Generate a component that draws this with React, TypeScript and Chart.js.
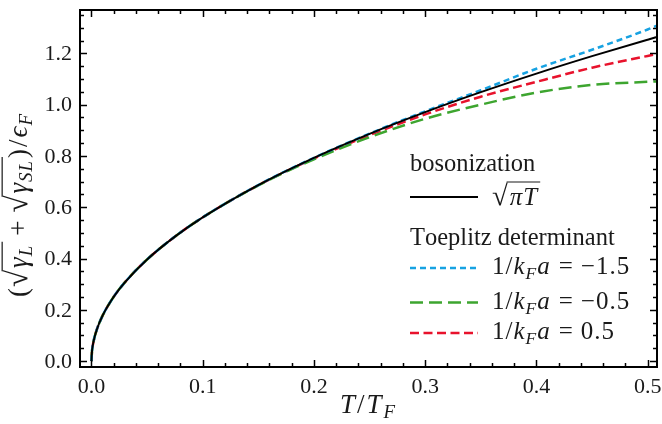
import React, { useEffect, useRef } from "react";
import { Chart, registerables } from "chart.js";

Chart.register(...registerables);

// ---- data ----
const T = [0, 0.0005, 0.001, 0.0025, 0.005, 0.01, 0.02, 0.03, 0.05, 0.075, 0.1, 0.15, 0.2, 0.25, 0.3, 0.35, 0.4, 0.45, 0.5, 0.51];
const bosonization = [0, 0.0396, 0.056, 0.0886, 0.1253, 0.1772, 0.2507, 0.307, 0.3963, 0.4854, 0.5605, 0.6865, 0.7927, 0.8862, 0.9708, 1.0486, 1.121, 1.189, 1.2533, 1.2658];
const toeplitzM15 = [0, 0.0396, 0.056, 0.0886, 0.1253, 0.1772, 0.2507, 0.307, 0.3963, 0.4854, 0.5605, 0.6865, 0.7927, 0.887, 0.974, 1.056, 1.14, 1.214, 1.293, 1.311];
const toeplitzM05 = [0, 0.0396, 0.056, 0.0886, 0.1253, 0.1772, 0.2507, 0.307, 0.3962, 0.4852, 0.5602, 0.685, 0.787, 0.873, 0.945, 1.0, 1.047, 1.077, 1.089, 1.091];
const toeplitzP05 = [0, 0.0396, 0.056, 0.0886, 0.1253, 0.1772, 0.2507, 0.307, 0.3963, 0.4853, 0.5603, 0.686, 0.79, 0.881, 0.962, 1.031, 1.089, 1.144, 1.19, 1.199];

const xTicks = [0, 0.1, 0.2, 0.3, 0.4, 0.5];
const yTicks = [0, 0.2, 0.4, 0.6, 0.8, 1.0, 1.2];
const X_MIN = -0.0103;
const X_MAX = 0.5084;
const Y_MIN = -0.023;
const Y_MAX = 1.369;
const X_MINOR_STEP = 0.02;
const Y_MINOR_STEP = 0.05;

const FONT = '"Liberation Serif", "Times New Roman", serif';
const INK = "#1a1a1a";
const C_BLACK = "#000000";
const C_BLUE = "#17a2e2";
const C_GREEN = "#3da52f";
const C_RED = "#e8122c";
const DASH_BLUE = [6, 4];
const DASH_GREEN = [13, 6];
const DASH_RED = [9, 4.5];

type Seg = { t?: string; i?: boolean; sub?: boolean; sq?: "open" | "close"; g?: number };

function drawRich(
  ctx: CanvasRenderingContext2D,
  segs: Seg[],
  x: number,
  y: number,
  size: number,
  align: "left" | "center",
  ls = 0
) {
  const subSize = size * 0.7;
  const sizeOf = (s: Seg) => (s.sq === "open" ? size * 1.15 : s.sub ? subSize : size);
  const fontOf = (s: Seg) => `${s.i ? "italic " : ""}${sizeOf(s)}px ${FONT}`;
  ctx.textBaseline = "alphabetic";
  ctx.textAlign = "left";
  const segW = (s: Seg) => {
    if (s.g) return s.g;
    if (!s.t) return 0;
    ctx.font = fontOf(s);
    let w = 0;
    for (const ch of Array.from(s.t)) w += ctx.measureText(ch).width + ls;
    return w;
  };
  let w = 0;
  for (const s of segs) w += segW(s);
  let cx = align === "center" ? x - w / 2 : x;
  let sqStart = 0;
  let sqY = 0;
  for (const s of segs) {
    if (s.g) {
      cx += s.g;
      continue;
    }
    if (s.sq === "close") {
      ctx.save();
      ctx.strokeStyle = INK;
      ctx.lineWidth = size * 0.045;
      ctx.beginPath();
      ctx.moveTo(sqStart, sqY);
      ctx.lineTo(cx + 1, sqY);
      ctx.stroke();
      ctx.restore();
      continue;
    }
    if (!s.t) continue;
    ctx.font = fontOf(s);
    const sy = s.sub ? y + size * 0.2 : y;
    const startX = cx;
    for (const ch of Array.from(s.t)) {
      ctx.fillText(ch, cx, sy);
      cx += ctx.measureText(ch).width + ls;
    }
    if (s.sq === "open") {
      const gs = sizeOf(s);
      sqStart = startX + ctx.measureText(s.t).width - gs * 0.04;
      sqY = y - gs * 0.8;
    }
  }
}

const overlay = {
  id: "overlay",
  afterDraw(chart: any) {
    const ctx: CanvasRenderingContext2D = chart.ctx;
    const { left, right, top, bottom } = chart.chartArea;
    const xs = chart.scales.x;
    const ys = chart.scales.y;
    ctx.save();
    // frame
    ctx.strokeStyle = "#000";
    ctx.lineWidth = 2;
    ctx.strokeRect(left, top, right - left, bottom - top);
    // ticks
    ctx.lineWidth = 1.5;
    const tick = (x1: number, y1: number, x2: number, y2: number) => {
      ctx.beginPath();
      ctx.moveTo(x1, y1);
      ctx.lineTo(x2, y2);
      ctx.stroke();
    };
    const MAJ = 7;
    const MIN = 4;
    for (let v = 0; v <= X_MAX + 1e-9; v += X_MINOR_STEP) {
      const isMajor = xTicks.some((t) => Math.abs(t - v) < 1e-6);
      const px = Math.round(xs.getPixelForValue(v)) + 0.5;
      const L = isMajor ? MAJ : MIN;
      tick(px, bottom, px, bottom - L);
      tick(px, top, px, top + L);
    }
    for (let v = 0; v <= Y_MAX + 1e-9; v += Y_MINOR_STEP) {
      const isMajor = yTicks.some((t) => Math.abs(t - v) < 1e-6);
      const py = Math.round(ys.getPixelForValue(v)) + 0.5;
      const L = isMajor ? MAJ : MIN;
      tick(left, py, left + L, py);
      tick(right, py, right - L, py);
    }
    // tick labels
    ctx.fillStyle = INK;
    ctx.font = `22px ${FONT}`;
    ctx.textAlign = "right";
    ctx.textBaseline = "middle";
    for (const v of yTicks) {
      ctx.fillText(v.toFixed(1), left - 8, ys.getPixelForValue(v) + 1);
    }
    ctx.textAlign = "center";
    ctx.textBaseline = "alphabetic";
    for (const v of xTicks) {
      ctx.fillText(v.toFixed(1), xs.getPixelForValue(v), bottom + 26);
    }
    // axis titles
    drawRich(
      ctx,
      [{ t: "T", i: true }, { t: "/" }, { t: "T", i: true }, { t: "F", i: true, sub: true }],
      (left + right) / 2,
      413,
      27,
      "center",
      2
    );
    ctx.save();
    ctx.translate(27, 205);
    ctx.rotate(-Math.PI / 2);
    drawRich(
      ctx,
      [
        { t: "(" },
        { t: "√", sq: "open" },
        { g: 1 },
        { t: "γ", i: true },
        { t: "L", i: true, sub: true },
        { g: 2 },
        { sq: "close" },
        { g: 7 },
        { t: "+" },
        { g: 7 },
        { t: "√", sq: "open" },
        { g: 1 },
        { t: "γ", i: true },
        { t: "SL", i: true, sub: true },
        { g: 2 },
        { sq: "close" },
        { t: ")" },
        { g: 1 },
        { t: "/" },
        { g: 1 },
        { t: "ϵ", i: true },
        { t: "F", i: true, sub: true },
      ],
      0,
      0,
      27,
      "center",
      1
    );
    ctx.restore();

    // legend
    const LS = 24.5;
    const MS = 25;
    const lx0 = 410;
    const lx1 = 478;
    const tx = 492;
    ctx.fillStyle = INK;
    drawRich(ctx, [{ t: "bosonization" }], lx0, 171, LS, "left");
    const legLine = (y: number, color: string, dash: number[], w: number) => {
      ctx.save();
      ctx.strokeStyle = color;
      ctx.lineWidth = w;
      ctx.setLineDash(dash);
      ctx.beginPath();
      ctx.moveTo(lx0, y);
      ctx.lineTo(lx1, y);
      ctx.stroke();
      ctx.restore();
    };
    legLine(197, C_BLACK, [], 2);
    drawRich(ctx, [{ t: "√", sq: "open" }, { g: 1 }, { t: "πT", i: true }, { g: 1 }, { sq: "close" }], tx, 205, MS, "left", 1);
    drawRich(ctx, [{ t: "Toeplitz determinant" }], lx0, 245, LS, "left");
    const kfa = (val: string): Seg[] => [
      { t: "1/" },
      { t: "k", i: true },
      { t: "F", i: true, sub: true },
      { t: "a", i: true },
      { g: 8 },
      { t: "=" },
      { g: 7 },
      { t: val },
    ];
    legLine(268, C_BLUE, DASH_BLUE, 2.5);
    drawRich(ctx, kfa("−1.5"), tx, 274, MS, "left", 1);
    legLine(302.5, C_GREEN, DASH_GREEN, 2.5);
    drawRich(ctx, kfa("−0.5"), tx, 309, MS, "left", 1);
    legLine(333, C_RED, DASH_RED, 2.5);
    drawRich(ctx, kfa("0.5"), tx, 339, MS, "left", 1);
    ctx.restore();
  },
};

export default function App() {
  const ref = useRef<HTMLCanvasElement | null>(null);
  useEffect(() => {
    if (!ref.current) return;
    const mk = (vals: number[]) => T.map((x, i) => ({ x, y: vals[i] }));
    const chart = new Chart(ref.current, {
      type: "line",
      data: {
        datasets: [
          { label: "bosonization", data: mk(bosonization), borderColor: C_BLACK, borderWidth: 2, pointRadius: 0, cubicInterpolationMode: "monotone" },
          { label: "-1.5", data: mk(toeplitzM15), borderColor: C_BLUE, borderWidth: 2.5, borderDash: DASH_BLUE, pointRadius: 0, cubicInterpolationMode: "monotone" },
          { label: "-0.5", data: mk(toeplitzM05), borderColor: C_GREEN, borderWidth: 2.5, borderDash: DASH_GREEN, pointRadius: 0, cubicInterpolationMode: "monotone" },
          { label: "0.5", data: mk(toeplitzP05), borderColor: C_RED, borderWidth: 2.5, borderDash: DASH_RED, pointRadius: 0, cubicInterpolationMode: "monotone" },
        ],
      },
      options: {
        responsive: false,
        animation: false,
        layout: { padding: { top: 10, right: 5, left: 0, bottom: 0 } },
        plugins: { legend: { display: false }, tooltip: { enabled: false } },
        scales: {
          x: {
            type: "linear",
            min: X_MIN,
            max: X_MAX,
            grid: { display: false },
            border: { display: false },
            ticks: { display: false },
            afterFit: (s: any) => {
              s.height = 57;
            },
          },
          y: {
            type: "linear",
            min: Y_MIN,
            max: Y_MAX,
            grid: { display: false },
            border: { display: false },
            ticks: { display: false },
            afterFit: (s: any) => {
              s.width = 80;
            },
          },
        },
      },
      plugins: [overlay],
    } as any);
    return () => chart.destroy();
  }, []);
  return (
    <div style={{ position: "fixed", left: 0, top: 0, width: 662, height: 424, background: "#fff" }}>
      <canvas ref={ref} width={662} height={424} style={{ width: 662, height: 424, display: "block" }} />
    </div>
  );
}
